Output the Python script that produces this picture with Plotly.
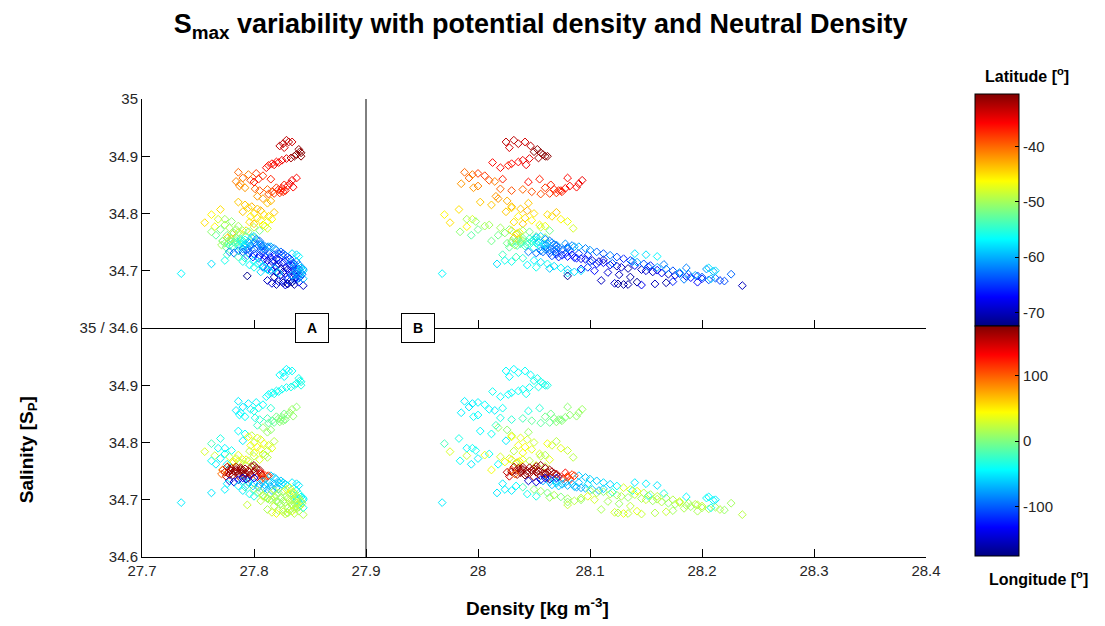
import plotly.graph_objects as go

# ---------------- data ----------------
# salinity maximum S_max, potential density sigma, neutral density gamma, latitude, longitude
sal = [
    34.928, 34.922, 34.925, 34.915, 34.918, 34.912, 34.906, 34.903, 34.900, 34.897, 34.908, 34.900, 34.896, 34.893, 34.890, 34.887, 34.884, 34.880, 34.889, 34.885, 34.925,
    34.872, 34.868, 34.870, 34.866, 34.862, 34.858, 34.856, 34.852, 34.860, 34.848, 34.845, 34.843, 34.840, 34.842, 34.838, 34.845, 34.842, 34.840, 34.838, 34.836, 34.844, 34.840, 34.848, 34.852, 34.858, 34.846, 34.835, 34.834, 34.850, 34.862, 34.855, 34.860,
    34.798, 34.807, 34.784, 34.777, 34.790, 34.820, 34.815, 34.812, 34.808, 34.805, 34.800, 34.795, 34.792, 34.788, 34.785, 34.782, 34.780, 34.778, 34.826, 34.822, 34.830, 34.818, 34.795, 34.790, 34.802, 34.798, 34.786, 34.774, 34.803, 34.810, 34.770, 34.767, 34.765,
    34.775, 34.772, 34.770, 34.768, 34.766, 34.764, 34.762, 34.760, 34.758, 34.776, 34.780, 34.770, 34.790, 34.786, 34.772, 34.762, 34.778, 34.752, 34.768,
    34.757, 34.755, 34.753, 34.751, 34.749, 34.747, 34.745, 34.743, 34.741, 34.756, 34.754, 34.752, 34.750, 34.748, 34.746, 34.744, 34.742, 34.740, 34.738, 34.758, 34.760, 34.755, 34.752, 34.749, 34.746, 34.743, 34.740, 34.737, 34.741, 34.744, 34.747, 34.735, 34.750, 34.744, 34.748, 34.752, 34.745,
    34.733, 34.731, 34.729, 34.727, 34.725, 34.723, 34.721, 34.732, 34.730, 34.728, 34.726, 34.724, 34.722, 34.720, 34.718, 34.734, 34.716, 34.719, 34.730, 34.727, 34.733, 34.731, 34.735, 34.738, 34.736,
    34.716, 34.712, 34.714, 34.710, 34.708, 34.706, 34.704, 34.709, 34.702, 34.700, 34.698, 34.701, 34.696, 34.694, 34.692, 34.695, 34.690, 34.688, 34.691, 34.686, 34.684, 34.687, 34.683, 34.682, 34.685, 34.681, 34.679, 34.677, 34.680, 34.676, 34.678, 34.683, 34.703, 34.706, 34.700, 34.697, 34.693, 34.689, 34.707, 34.711, 34.705, 34.703, 34.699, 34.694, 34.674, 34.713, 34.716, 34.680, 34.675,
    34.718, 34.715, 34.712, 34.708, 34.705, 34.702, 34.698, 34.710, 34.706, 34.700, 34.722, 34.724, 34.716, 34.704, 34.696, 34.728, 34.695, 34.712, 34.718, 34.691, 34.677, 34.676, 34.730, 34.728, 34.725, 34.705, 34.700,
    34.742, 34.739, 34.736, 34.733, 34.730, 34.727, 34.724, 34.721, 34.718, 34.715, 34.712, 34.709, 34.706, 34.703, 34.700, 34.697, 34.694, 34.692, 34.689, 34.686, 34.745, 34.742, 34.739, 34.750, 34.753, 34.746, 34.757, 34.754, 34.748, 34.738,
]
sigma = [
    27.829, 27.826, 27.834, 27.827, 27.823, 27.840, 27.842, 27.838, 27.836, 27.833, 27.841, 27.842, 27.829, 27.825, 27.820, 27.816, 27.813, 27.811, 27.822, 27.818, 27.831,
    27.786, 27.795, 27.802, 27.808, 27.790, 27.797, 27.784, 27.788, 27.804, 27.787, 27.792, 27.801, 27.805, 27.812, 27.816, 27.820, 27.822, 27.824, 27.826, 27.823, 27.825, 27.828, 27.830, 27.832, 27.834, 27.835, 27.818, 27.813, 27.827, 27.838, 27.800, 27.815,
    27.762, 27.770, 27.756, 27.765, 27.768, 27.786, 27.792, 27.798, 27.803, 27.806, 27.800, 27.797, 27.803, 27.806, 27.796, 27.800, 27.808, 27.810, 27.808, 27.815, 27.803, 27.812, 27.813, 27.816, 27.818, 27.809, 27.812, 27.812, 27.790, 27.795, 27.793, 27.786, 27.780,
    27.778, 27.784, 27.790, 27.795, 27.782, 27.788, 27.776, 27.793, 27.800, 27.800, 27.774, 27.805, 27.774, 27.780, 27.770, 27.766, 27.786, 27.772, 27.762,
    27.776, 27.780, 27.784, 27.779, 27.783, 27.777, 27.786, 27.781, 27.775, 27.788, 27.792, 27.790, 27.795, 27.789, 27.793, 27.797, 27.791, 27.787, 27.795, 27.798, 27.800, 27.802, 27.805, 27.800, 27.803, 27.807, 27.803, 27.810, 27.812, 27.809, 27.806, 27.806, 27.785, 27.778, 27.774, 27.772, 27.771,
    27.790, 27.795, 27.800, 27.805, 27.810, 27.815, 27.820, 27.808, 27.814, 27.818, 27.794, 27.799, 27.804, 27.809, 27.812, 27.812, 27.816, 27.822, 27.822, 27.825, 27.778, 27.782, 27.786, 27.800, 27.793,
    27.818, 27.822, 27.826, 27.815, 27.820, 27.828, 27.824, 27.832, 27.830, 27.834, 27.826, 27.838, 27.832, 27.836, 27.840, 27.828, 27.834, 27.838, 27.842, 27.830, 27.836, 27.840, 27.826, 27.832, 27.838, 27.822, 27.826, 27.830, 27.834, 27.820, 27.816, 27.812, 27.812, 27.808, 27.816, 27.820, 27.824, 27.818, 27.836, 27.840, 27.842, 27.844, 27.838, 27.843, 27.844, 27.835, 27.838, 27.840, 27.828,
    27.800, 27.805, 27.803, 27.808, 27.810, 27.812, 27.806, 27.796, 27.800, 27.814, 27.792, 27.786, 27.790, 27.818, 27.822, 27.776, 27.735, 27.762, 27.774, 27.794, 27.830, 27.836, 27.834, 27.838, 27.840, 27.842, 27.844,
    27.815, 27.818, 27.820, 27.824, 27.826, 27.828, 27.830, 27.832, 27.829, 27.833, 27.836, 27.834, 27.838, 27.840, 27.836, 27.842, 27.838, 27.834, 27.841, 27.844, 27.806, 27.813, 27.808, 27.782, 27.788, 27.792, 27.784, 27.778, 27.796, 27.790,
]
gamma = [
    28.032, 28.036, 28.042, 28.028, 28.047, 28.053, 28.056, 28.058, 28.060, 28.054, 28.050, 28.062, 28.046, 28.040, 28.036, 28.030, 28.027, 28.020, 28.013, 28.043, 28.025,
    27.988, 27.995, 28.000, 28.006, 27.992, 28.010, 28.015, 27.985, 28.022, 28.000, 27.996, 28.020, 28.030, 28.040, 28.048, 28.060, 28.068, 28.072, 28.075, 28.070, 28.078, 28.074, 28.082, 28.090, 28.093, 28.088, 28.064, 28.056, 28.065, 28.080, 28.045, 28.055,
    27.970, 27.983, 27.975, 27.990, 27.995, 28.002, 28.012, 28.030, 28.038, 28.044, 28.050, 28.036, 28.042, 28.048, 28.032, 28.040, 28.055, 28.060, 28.018, 28.026, 28.016, 28.045, 28.066, 28.074, 28.070, 28.062, 28.080, 28.085, 28.025, 28.030, 28.030, 28.037, 28.035,
    28.020, 28.028, 28.040, 28.046, 28.024, 28.034, 28.018, 28.052, 28.060, 28.056, 28.010, 28.064, 27.990, 27.998, 28.000, 27.994, 28.006, 28.012, 27.984,
    28.032, 28.036, 28.040, 28.034, 28.030, 28.038, 28.044, 28.042, 28.028, 28.046, 28.050, 28.048, 28.054, 28.052, 28.058, 28.060, 28.056, 28.050, 28.062, 28.052, 28.056, 28.060, 28.064, 28.066, 28.068, 28.070, 28.072, 28.076, 28.080, 28.084, 28.078, 28.082, 28.038, 28.035, 28.026, 28.030, 28.033,
    28.058, 28.064, 28.070, 28.075, 28.080, 28.086, 28.092, 28.070, 28.078, 28.084, 28.066, 28.072, 28.088, 28.096, 28.102, 28.068, 28.108, 28.112, 28.090, 28.098, 28.045, 28.052, 28.056, 28.070, 28.064,
    28.100, 28.106, 28.112, 28.118, 28.124, 28.128, 28.134, 28.140, 28.146, 28.150, 28.156, 28.160, 28.164, 28.170, 28.176, 28.180, 28.186, 28.190, 28.196, 28.200, 28.206, 28.212, 28.216, 28.220, 28.184, 28.174, 28.168, 28.158, 28.142, 28.130, 28.122, 28.110, 28.092, 28.098, 28.104, 28.116, 28.126, 28.136, 28.152, 28.166, 28.186, 28.204, 28.210, 28.226, 28.236, 28.120, 28.138, 28.196, 28.146,
    28.050, 28.056, 28.062, 28.068, 28.074, 28.080, 28.086, 28.044, 28.052, 28.092, 28.040, 28.034, 28.030, 28.064, 28.080, 28.022, 27.968, 28.017, 28.024, 28.080, 28.125, 28.134, 28.140, 28.150, 28.160, 28.206, 28.212,
    28.090, 28.096, 28.100, 28.106, 28.112, 28.118, 28.124, 28.130, 28.136, 28.142, 28.148, 28.154, 28.160, 28.168, 28.174, 28.180, 28.188, 28.194, 28.200, 28.208, 28.070, 28.086, 28.080, 28.044, 28.052, 28.060, 28.040, 28.038, 28.062, 28.060,
]
lat = [
    -33, -33, -34, -34, -33, -31, -30, -31, -30, -32, -31, -31, -35, -35, -36, -36, -37, -36, -36, -35, -33,
    -40, -41, -38, -38, -40, -39, -41, -42, -37, -41, -42, -40, -39, -40, -39, -38, -37, -37, -37, -38, -36, -37, -36, -35, -35, -36, -38, -39, -37, -36, -36, -37,
    -46, -45, -45, -46, -48, -44, -44, -43, -44, -43, -45, -46, -45, -46, -45, -44, -46, -47, -42, -43, -42, -44, -45, -46, -44, -45, -47, -48, -44, -45, -45, -46, -44,
    -50, -51, -50, -52, -51, -49, -52, -53, -51, -49, -50, -52, -50, -51, -52, -53, -50, -52, -51,
    -44, -45, -51, -54, -52, -53, -55, -54, -53, -55, -56, -54, -60, -55, -58, -62, -57, -56, -62, -59, -58, -62, -63, -61, -63, -64, -62, -63, -64, -62, -61, -64, -53, -54, -52, -51, -50,
    -63, -64, -65, -66, -67, -66, -68, -64, -65, -67, -64, -66, -67, -68, -69, -62, -69, -70, -65, -66, -62, -63, -62, -64, -63,
    -64, -66, -67, -68, -70, -69, -71, -68, -70, -69, -70, -67, -68, -70, -69, -66, -68, -67, -65, -66, -64, -63, -65, -64, -62, -66, -71, -70, -72, -71, -69, -70, -66, -65, -67, -69, -70, -71, -63, -62, -62, -61, -60, -63, -70, -63, -61, -67, -68,
    -57, -58, -56, -58, -57, -59, -58, -57, -56, -58, -55, -54, -56, -59, -58, -54, -57, -58, -56, -72, -72, -71, -58, -58, -57, -58, -58,
    -60, -62, -61, -63, -64, -62, -64, -66, -65, -60, -64, -66, -60, -62, -64, -59, -62, -60, -63, -59, -61, -60, -62, -54, -56, -58, -52, -50, -60, -61,
]
lon = [
    -45, -44, -42, -46, -43, -38, -36, -37, -38, -36, -37, -35, -40, -42, -41, -43, -44, -43, -40, -39, -45,
    -48, -50, -46, -44, -52, -46, -50, -48, -40, -44, -42, -36, -30, -20, -10, -5, 0, 2, 5, 4, 3, -2, 6, 8, 10, 7, -8, -12, -5, 5, -35, -30,
    -20, -35, 30, 25, -40, -45, -40, 20, 35, 30, 25, 40, 45, 35, 20, 40, 30, 15, 10, 5, -25, 10, 28, 35, 20, 40, 25, 20, -50, 45, 50, 45, 60,
    30, 25, 35, 20, 40, 15, -45, 30, 25, 20, -40, 35, -45, -40, -48, -50, 35, 40, -42,
    160, 165, 170, 158, 172, 155, 168, 175, 150, 162, 166, 170, 160, 174, 163, 168, 171, 160, 165, 165, 170, 172, 168, 160, 175, 165, 170, 140, 120, 110, 130, 125, 168, 162, 155, 110, 95,
    -70, -65, -60, -72, -68, -62, -75, -58, -66, -70, -64, -60, -73, -66, -62, -55, -70, -58, -64, -50, -150, -145, -140, -130, -155,
    10, 15, 5, 20, 12, 18, 8, 22, 14, 25, 10, 16, 20, 6, 12, 18, 15, 9, 22, 14, 18, 11, 20, 8, 16, 12, 25, 18, 35, 40, 30, 15, 20, 35, 28, 14, 10, 22, -40, -35, -45, -38, -42, 12, 20, -30, -40, 15, 25,
    5, 10, -5, 15, 0, 12, 20, -40, -35, 8, -20, -45, -50, 10, 5, -50, -50, -52, -48, 25, 15, 20, -50, -48, -52, -45, -50,
    -60, -65, -58, -62, -55, -60, -45, 30, 35, 40, 20, 15, 25, 10, 18, 30, 12, 20, 25, -40, 150, 115, 100, 165, 168, 172, 163, 170, 160, -135,
]

x_ticks = [27.7, 27.8, 27.9, 28.0, 28.1, 28.2, 28.3, 28.4]
x_labels = ["27.7", "27.8", "27.9", "28", "28.1", "28.2", "28.3", "28.4"]
top_ticks = [34.6, 34.7, 34.8, 34.9, 35.0]
top_labels = ["35 / 34.6", "34.7", "34.8", "34.9", "35"]
bot_ticks = [34.6, 34.7, 34.8, 34.9]
bot_labels = ["34.6", "34.7", "34.8", "34.9"]
lat_ticks = [-70, -60, -50, -40]
lat_labels = ["-70", "-60", "-50", "-40"]
lon_ticks = [-100, 0, 100]
lon_labels = ["-100", "0", "100"]

jet = [[0.0, "rgb(0,0,128)"], [0.125, "rgb(0,0,255)"], [0.375, "rgb(0,255,255)"],
       [0.625, "rgb(255,255,0)"], [0.875, "rgb(255,0,0)"], [1.0, "rgb(128,0,0)"]]

FONT = "Liberation Sans, Arial, sans-serif"
TXT = "#262626"

fig = go.Figure()

def add(xv, col, xa, ya, cax):
    fig.add_trace(go.Scatter(
        x=xv, y=sal, mode="markers", xaxis=xa, yaxis=ya, showlegend=False,
        hoverinfo="skip",
        marker=dict(symbol="diamond-open", size=6, color=col, coloraxis=cax,
                    line=dict(width=1)),
    ))

add(sigma, lat, "x2", "y2", "coloraxis")
add(gamma, lat, "x2", "y2", "coloraxis")
add(sigma, lon, "x", "y", "coloraxis2")
add(gamma, lon, "x", "y", "coloraxis2")

axis_common = dict(showline=True, linecolor="black", linewidth=1, ticks="inside",
                   ticklen=8, tickcolor="black", showgrid=False, zeroline=False,
                   mirror=False, tickfont=dict(family=FONT, size=15, color=TXT))

cb_common = dict(x=1.0625, xanchor="left", lenmode="fraction", thickness=44,
                 thicknessmode="pixels", xpad=0, ypad=0, outlinewidth=1,
                 outlinecolor="black", ticks="inside", ticklen=4, tickcolor="black",
                 tickfont=dict(family=FONT, size=15, color=TXT))

# the page adds an 8 px body margin, so margins are shifted by 8 px
fig.update_layout(
    width=1105, height=626,
    margin=dict(l=134, r=187, t=91, b=77, autoexpand=False),
    paper_bgcolor="white", plot_bgcolor="white",
    font=dict(family=FONT, color=TXT),
    xaxis=dict(domain=[0, 1], range=[27.7, 28.4], anchor="y", tickvals=x_ticks,
               ticktext=x_labels, **axis_common),
    xaxis2=dict(domain=[0, 1], range=[27.7, 28.4], anchor="y2", tickvals=x_ticks,
                showticklabels=False, **axis_common),
    yaxis=dict(domain=[0, 0.5], range=[34.6, 35.0], anchor="x", tickvals=bot_ticks,
               ticktext=bot_labels, **axis_common),
    yaxis2=dict(domain=[0.5, 1], range=[34.6, 35.0], anchor="x2", tickvals=top_ticks,
                ticktext=top_labels, **axis_common),
    coloraxis=dict(colorscale=jet, cmin=-72.5, cmax=-30.5,
                   colorbar=dict(y=0.504, yanchor="bottom", len=0.506,
                                 tickvals=lat_ticks, ticktext=lat_labels, **cb_common)),
    coloraxis2=dict(colorscale=jet, cmin=-176, cmax=176,
                    colorbar=dict(y=0.002, yanchor="bottom", len=0.502,
                                  tickvals=lon_ticks, ticktext=lon_labels, **cb_common)),
    title=dict(text="<b>S<sub>max</sub> variability with potential density and Neutral Density</b>",
               x=0.482, xanchor="center", y=0.975, yanchor="middle",
               font=dict(family=FONT, size=27, color="black")),
)

# vertical separator between the two density scales
fig.add_shape(type="line", xref="x", yref="paper", x0=27.9, x1=27.9, y0=0, y1=1,
              line=dict(color="black", width=1))

ann = [
    dict(text="<b>A</b>", x=27.852, y=0.5, xref="x", yref="paper"),
    dict(text="<b>B</b>", x=27.946, y=0.5, xref="x", yref="paper"),
]
for a in ann:
    fig.add_annotation(**a, showarrow=False, bgcolor="white", bordercolor="black",
                       borderwidth=1, borderpad=6, width=20, xanchor="center",
                       yanchor="middle", font=dict(family=FONT, size=14, color="black"))

fig.add_annotation(text="<b>Density [kg m<sup>-3</sup>]</b>", xref="paper", yref="paper",
                   x=0.505, y=-0.109, xanchor="center", yanchor="middle", showarrow=False,
                   font=dict(family=FONT, size=19, color="black"))
fig.add_annotation(text="<b>Salinity [S<sub>P</sub>]</b>", xref="paper", yref="paper",
                   x=-0.145, y=0.234, xanchor="center", yanchor="middle", textangle=-90,
                   showarrow=False, font=dict(family=FONT, size=19, color="black"))
fig.add_annotation(text="<b>Latitude [<sup>o</sup>]</b>", xref="paper", yref="paper",
                   x=1.129, y=1.052, xanchor="center", yanchor="middle", showarrow=False,
                   font=dict(family=FONT, size=16, color="black"))
fig.add_annotation(text="<b>Longitude [<sup>o</sup>]</b>", xref="paper", yref="paper",
                   x=1.143, y=-0.046, xanchor="center", yanchor="middle", showarrow=False,
                   font=dict(family=FONT, size=16, color="black"))

fig.write_html("out.html")
